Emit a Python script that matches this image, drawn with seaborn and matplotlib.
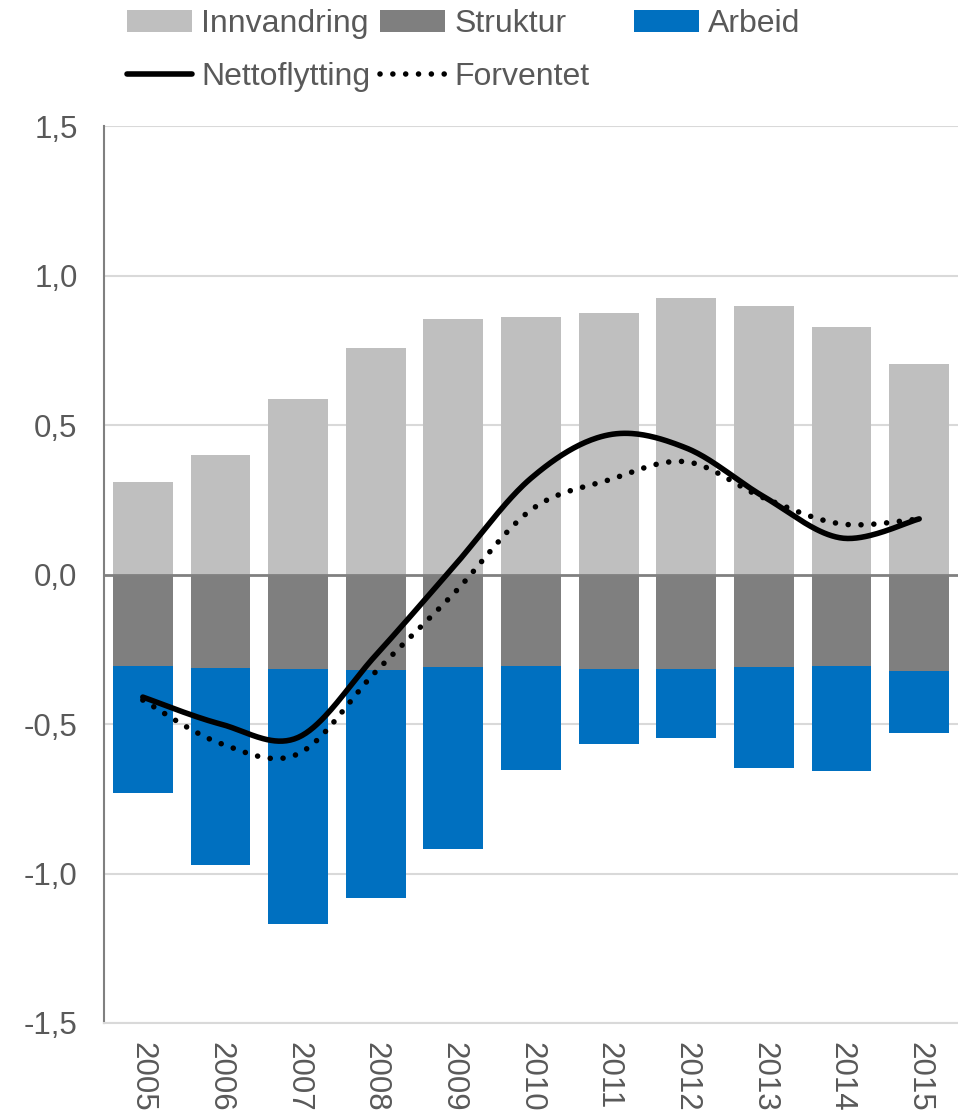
import numpy as np
import pandas as pd
import matplotlib
matplotlib.use("Agg")
import matplotlib.pyplot as plt
from matplotlib.patches import Patch
from matplotlib.lines import Line2D
import seaborn as sns

years = ["2005", "2006", "2007", "2008", "2009", "2010", "2011", "2012", "2013", "2014", "2015"]
innvandring = [0.31, 0.40, 0.587, 0.757, 0.854, 0.861, 0.875, 0.925, 0.898, 0.828, 0.704]
struktur = [-0.306, -0.313, -0.316, -0.319, -0.309, -0.306, -0.316, -0.316, -0.309, -0.306, -0.323]
arbeid = [-0.425, -0.659, -0.853, -0.763, -0.609, -0.348, -0.251, -0.231, -0.338, -0.351, -0.207]
nettoflytting = [-0.41, -0.50, -0.545, -0.27, 0.025, 0.322, 0.467, 0.423, 0.26, 0.122, 0.186]
forventet = [-0.42, -0.565, -0.60, -0.325, -0.065, 0.216, 0.316, 0.377, 0.256, 0.169, 0.186]
yticks = [-1.5, -1.0, -0.5, 0.0, 0.5, 1.0, 1.5]
ytick_labels = ["-1,5", "-1,0", "-0,5", "0,0", "0,5", "1,0", "1,5"]

C_INN = "#BFBFBF"
C_STR = "#7F7F7F"
C_ARB = "#0070C0"
TXT = "#595959"

sns.set_theme(style="white")
plt.rcParams["font.family"] = ["Liberation Sans", "DejaVu Sans"]


def smooth(xs, ys, n=40):
    # Excel-style smoothed line (Catmull-Rom Bezier), used only for drawing
    xs = np.asarray(xs, float)
    ys = np.asarray(ys, float)
    P = np.column_stack([xs, ys])
    out = []
    for i in range(len(P) - 1):
        p0 = P[i - 1] if i > 0 else P[i]
        p1 = P[i]
        p2 = P[i + 1]
        p3 = P[i + 2] if i + 2 < len(P) else P[i + 1]
        c1 = p1 + (p2 - p0) / 6.0
        c2 = p2 - (p3 - p1) / 6.0
        t = np.linspace(0, 1, n, endpoint=(i == len(P) - 2))[:, None]
        seg = ((1 - t) ** 3) * p1 + 3 * ((1 - t) ** 2) * t * c1 + 3 * (1 - t) * t ** 2 * c2 + t ** 3 * p2
        out.append(seg)
    out = np.vstack(out)
    return out[:, 0], out[:, 1]


fig = plt.figure(figsize=(9.58, 11.15), dpi=100)
ax = fig.add_axes([104 / 958, 1 - 1023 / 1115, 1 - 104 / 958, (1023 - 126) / 1115])

df = pd.DataFrame({"year": years, "inn": innvandring, "str": struktur,
                   "neg": np.array(struktur) + np.array(arbeid)})

# grid
for v in yticks:
    if v != 0.0:
        ax.axhline(v, color="#D9D9D9", lw=1.5, zorder=0)

sns.barplot(data=df, x="year", y="inn", color=C_INN, width=0.77, saturation=1,
            ax=ax, zorder=2, linewidth=0)
sns.barplot(data=df, x="year", y="neg", color=C_ARB, width=0.77, saturation=1,
            ax=ax, zorder=2, linewidth=0)
sns.barplot(data=df, x="year", y="str", color=C_STR, width=0.77, saturation=1,
            ax=ax, zorder=3, linewidth=0)

ax.axhline(0, color="#808080", lw=2, zorder=4)

xi = np.arange(len(years))
sx, sy = smooth(xi, forventet)
ax.plot(sx, sy, color="black", lw=4.0, linestyle=(0, (0.01, 2.3)),
        dash_capstyle="round", zorder=5)
sx, sy = smooth(xi, nettoflytting)
ax.plot(sx, sy, color="black", lw=4.0, solid_capstyle="round", zorder=6)

ax.set_xlim(-0.5, len(years) - 0.5)
ax.set_ylim(-1.5, 1.5)
ax.set_yticks(yticks)
ax.set_yticklabels(ytick_labels)
ax.set_xlabel("")
ax.set_ylabel("")
ax.tick_params(axis="y", length=0, pad=19, labelsize=22.5, labelcolor=TXT)
ax.tick_params(axis="x", length=0, pad=14, labelsize=22.5, labelcolor=TXT, rotation=270)
for lab in ax.get_xticklabels():
    lab.set_va("top")
    lab.set_ha("center")

for s in ["top", "right"]:
    ax.spines[s].set_visible(False)
ax.spines["left"].set_color("#808080")
ax.spines["left"].set_linewidth(1.5)
ax.spines["bottom"].set_color("#D9D9D9")
ax.spines["bottom"].set_linewidth(1.5)
ax.set_facecolor("white")

leg_kw = dict(loc="upper left", frameon=False, fontsize=23, handlelength=2.05,
              handletextpad=0.27, labelspacing=0.72, borderpad=0, borderaxespad=0,
              labelcolor=TXT, handleheight=0.7)
h_inn = Patch(facecolor=C_INN, edgecolor="none")
h_str = Patch(facecolor=C_STR, edgecolor="none")
h_arb = Patch(facecolor=C_ARB, edgecolor="none")
h_net = Line2D([], [], color="black", lw=4.0, solid_capstyle="round")
h_for = Line2D([], [], color="black", lw=4.0, linestyle=(0, (0.01, 2.3)), dash_capstyle="round")

top = 1 - 9 / 1115
fig.legend([h_inn, h_net], ["Innvandring", "Nettoflytting"], bbox_to_anchor=(127 / 958, top), **leg_kw)
fig.legend([h_str, h_for], ["Struktur", "Forventet"], bbox_to_anchor=(380 / 958, top), **leg_kw)
fig.legend([h_arb], ["Arbeid"], bbox_to_anchor=(634 / 958, top), **leg_kw)

fig.savefig("out.png", dpi=100, facecolor="white")
